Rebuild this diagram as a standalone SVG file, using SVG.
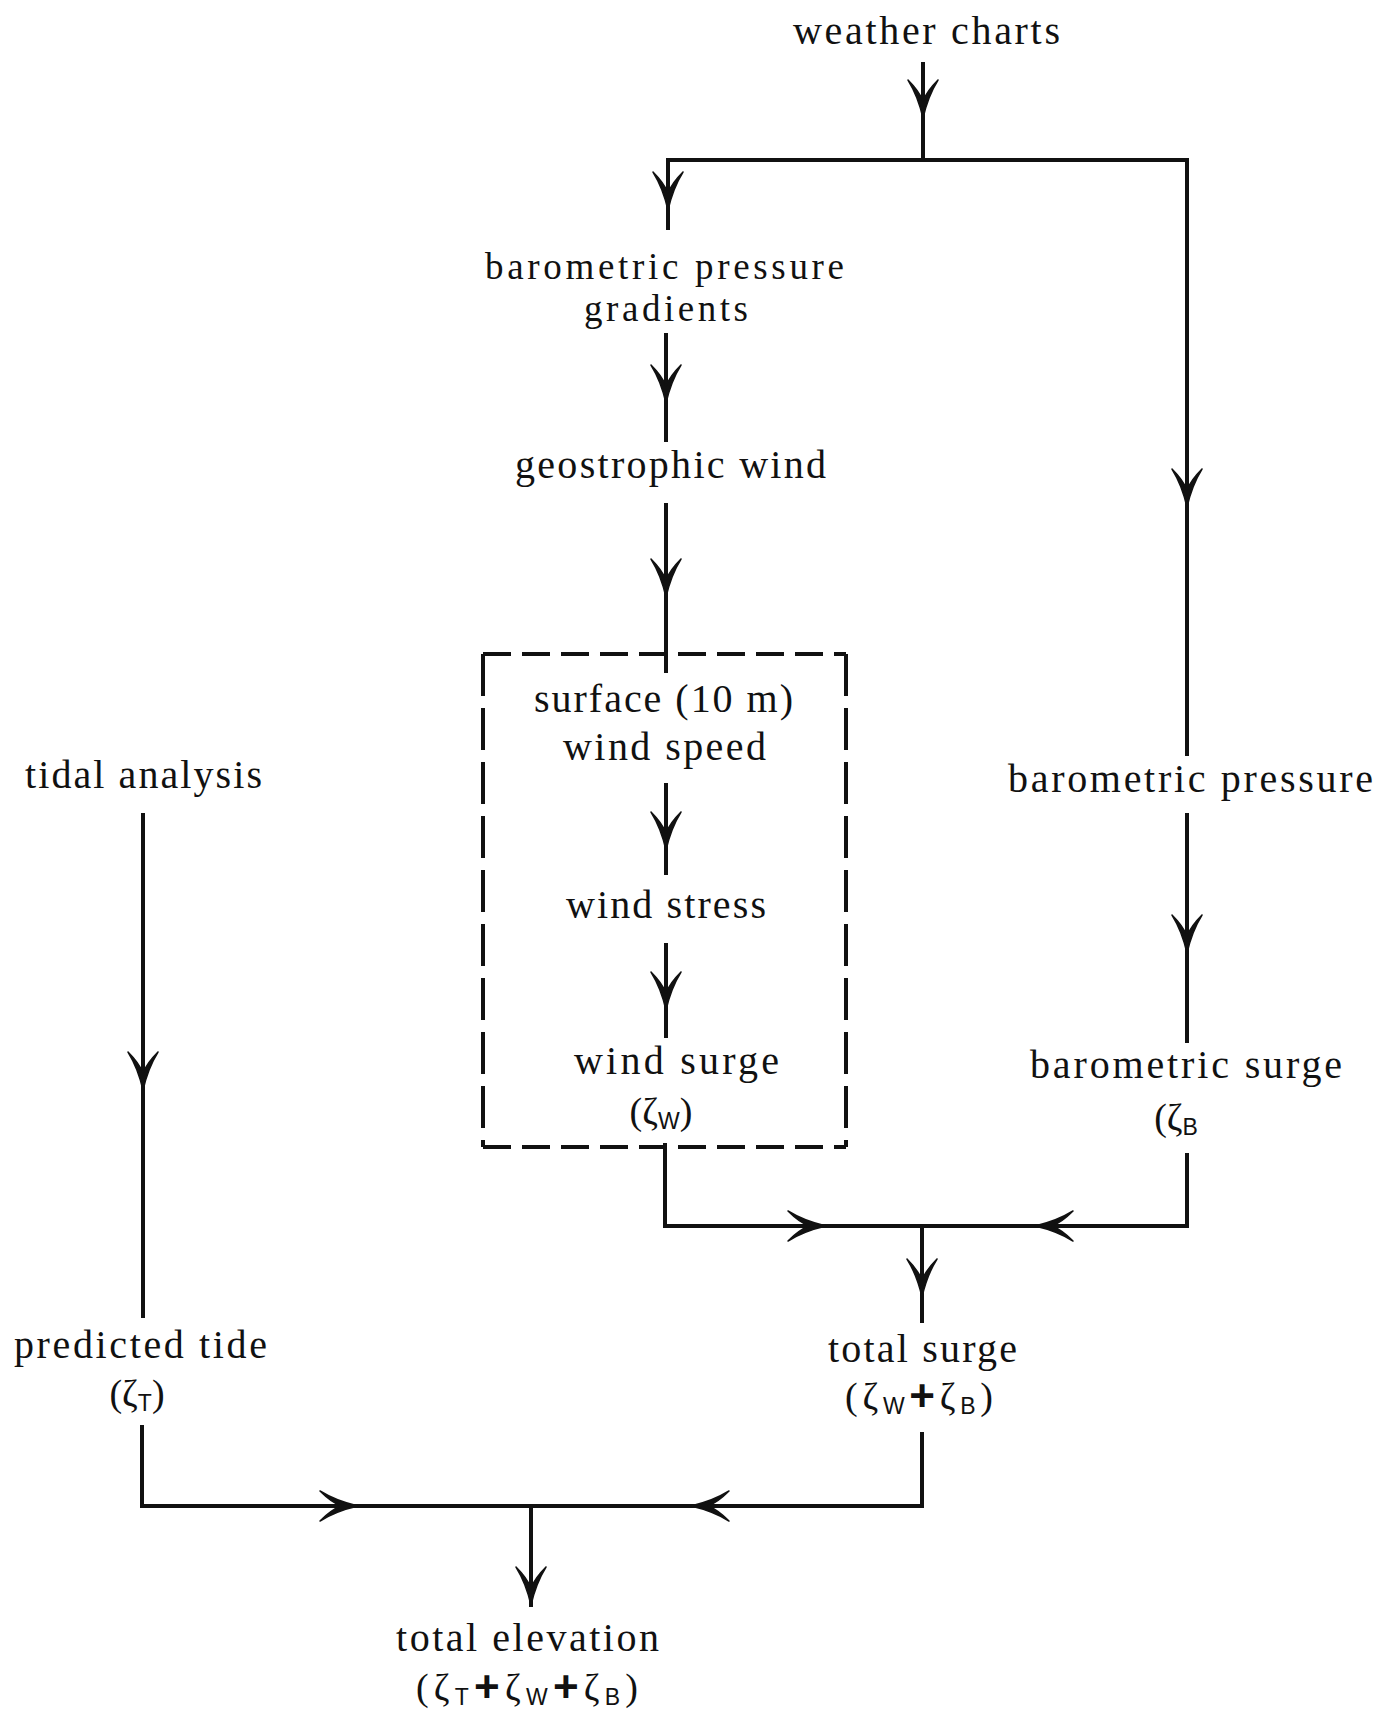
<svg xmlns="http://www.w3.org/2000/svg" width="1380" height="1711" viewBox="0 0 1380 1711">
<style>
.t{font-family:"Liberation Serif","Times New Roman",serif;font-size:40px;fill:#111;}
.t2{font-size:37px;}
.p{font-family:"Liberation Serif","Times New Roman",serif;font-size:38px;fill:#111;}
.s{font-family:"Liberation Sans",Arial,sans-serif;font-size:23px;}
.pl{font-family:"Liberation Sans",Arial,sans-serif;font-size:44px;font-weight:bold;}
.ln{fill:none;stroke:#111;stroke-width:4;stroke-linejoin:miter;}
.dh{fill:none;stroke:#111;stroke-width:4;stroke-dasharray:28 11;}
.dv{fill:none;stroke:#111;stroke-width:4;stroke-dasharray:42 12;}
.ah{fill:#111;stroke:#111;stroke-width:1.5;stroke-linejoin:round;}
</style>
<defs>
<path id="ah" class="ah" d="M-15,-38 Q-5,-22 0,0 Q5,-22 15,-38 Q4,-27 0,-17 Q-4,-27 -15,-38 Z"/>
</defs>
<rect width="1380" height="1711" fill="#fff"/>

<g id="connectors">
<path class="ln" d="M923,62 V160"/>
<path class="ln" d="M668,230 V160 H1187 V756"/>
<path class="ln" d="M1187,813 V1043"/>
<path class="ln" d="M666,333 V442"/>
<path class="ln" d="M666,503 V673"/>
<path class="ln" d="M666,783 V875"/>
<path class="ln" d="M666,943 V1038"/>
<path class="ln" d="M665,1143 V1226 H1187 V1153"/>
<path class="ln" d="M922,1226 V1323"/>
<path class="ln" d="M143,813 V1318"/>
<path class="ln" d="M142,1425 V1506 H922 V1432"/>
<path class="ln" d="M531,1506 V1607"/>
<use href="#ah" transform="translate(923,118)"/>
<use href="#ah" transform="translate(668,210)"/>
<use href="#ah" transform="translate(666,403)"/>
<use href="#ah" transform="translate(666,597)"/>
<use href="#ah" transform="translate(666,850)"/>
<use href="#ah" transform="translate(666,1010)"/>
<use href="#ah" transform="translate(1187,507)"/>
<use href="#ah" transform="translate(1187,953)"/>
<use href="#ah" transform="translate(143,1090)"/>
<use href="#ah" transform="translate(922,1297)"/>
<use href="#ah" transform="translate(531,1605)"/>
<use href="#ah" transform="translate(826,1226) rotate(-90)"/>
<use href="#ah" transform="translate(358,1506) rotate(-90)"/>
<use href="#ah" transform="translate(1035,1226) rotate(90)"/>
<use href="#ah" transform="translate(691,1506) rotate(90)"/>
</g>

<g id="wind-box">
<path class="dh" d="M483,654 H846"/>
<path class="dh" d="M483,1147 H846"/>
<path class="dv" d="M483,654 V1147"/>
<path class="dv" d="M846,654 V1147"/>
</g>

<g id="weather-charts"><text class="t" x="793" y="44" textLength="267" lengthAdjust="spacing">weather charts</text></g>
<g id="pressure-gradients">
<text class="t t2" x="485" y="279" textLength="359" lengthAdjust="spacing">barometric pressure</text>
<text class="t t2" x="584" y="321" textLength="164" lengthAdjust="spacing">gradients</text>
</g>
<g id="geostrophic-wind"><text class="t" x="515" y="478" textLength="311" lengthAdjust="spacing">geostrophic wind</text></g>
<g id="surface-wind">
<text class="t" x="534" y="712" textLength="259" lengthAdjust="spacing">surface (10 m)</text>
<text class="t" x="563" y="760" textLength="203" lengthAdjust="spacing">wind speed</text>
</g>
<g id="wind-stress"><text class="t" x="566" y="918" textLength="200" lengthAdjust="spacing">wind stress</text></g>
<g id="wind-surge">
<text class="t" x="574" y="1074" textLength="205" lengthAdjust="spacing">wind surge</text>
<text class="p" x="661" y="1124" text-anchor="middle">(ζ<tspan class="s" dy="5">W</tspan><tspan dy="-5">)</tspan></text>
</g>
<g id="tidal-analysis"><text class="t" x="25" y="788" textLength="237" lengthAdjust="spacing">tidal analysis</text></g>
<g id="barometric-pressure"><text class="t" x="1008" y="792" textLength="365" lengthAdjust="spacing">barometric pressure</text></g>
<g id="barometric-surge">
<text class="t" x="1030" y="1078" textLength="312" lengthAdjust="spacing">barometric surge</text>
<text class="p" x="1176" y="1130" text-anchor="middle">(ζ<tspan class="s" dy="5">B</tspan></text>
</g>
<g id="predicted-tide">
<text class="t" x="14" y="1358" textLength="253" lengthAdjust="spacing">predicted tide</text>
<text class="p" x="137" y="1406" text-anchor="middle">(ζ<tspan class="s" dy="5">T</tspan><tspan dy="-5">)</tspan></text>
</g>
<g id="total-surge">
<text class="t" x="828" y="1362" textLength="189" lengthAdjust="spacing">total surge</text>
<text class="p" x="919" y="1409" text-anchor="middle" textLength="148" lengthAdjust="spacing">(ζ<tspan class="s" dy="5">W</tspan><tspan class="pl" dy="-3">+</tspan><tspan dy="-2">ζ</tspan><tspan class="s" dy="5">B</tspan><tspan dy="-5">)</tspan></text>
</g>
<g id="total-elevation">
<text class="t" x="396" y="1651" textLength="263" lengthAdjust="spacing">total elevation</text>
<text class="p" x="527" y="1700" text-anchor="middle" textLength="222" lengthAdjust="spacing">(ζ<tspan class="s" dy="5">T</tspan><tspan class="pl" dy="-3">+</tspan><tspan dy="-2">ζ</tspan><tspan class="s" dy="5">W</tspan><tspan class="pl" dy="-3">+</tspan><tspan dy="-2">ζ</tspan><tspan class="s" dy="5">B</tspan><tspan dy="-5">)</tspan></text>
</g>
</svg>
